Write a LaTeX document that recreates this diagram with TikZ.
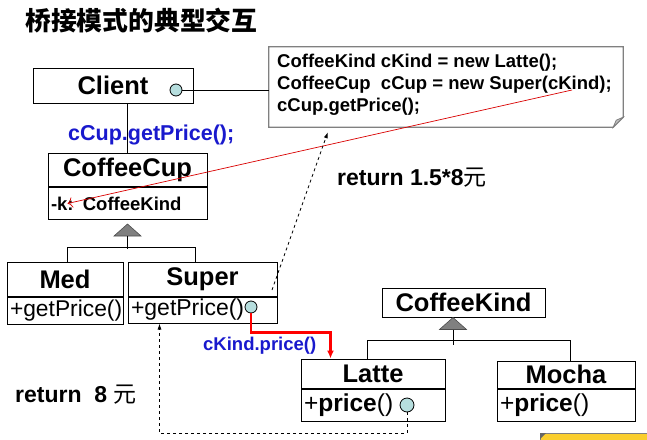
\documentclass[tikz,border=0pt]{standalone}
\usepackage{fontspec}
\setmainfont{Liberation Sans}
\newfontfamily\cjk{Noto Sans CJK SC}
\usetikzlibrary{arrows.meta,calc}
\definecolor{mblue}{RGB}{25,25,205}
\definecolor{cfill}{RGB}{182,222,222}
\definecolor{ngray}{RGB}{128,128,128}
\definecolor{yel}{RGB}{250,206,45}
\begin{document}
\begin{tikzpicture}[x=1pt,y=-1pt,
  cls/.style={draw, line width=1pt, inner sep=0pt, font=\bfseries\fontsize{25.5}{28}\selectfont},
  op/.style={draw, line width=1pt, inner xsep=3pt, inner ysep=0pt, align=left, font=\fontsize{23}{26}\selectfont},
  ball/.style={circle, draw, line width=0.8pt, fill=cfill, inner sep=0pt, minimum size=12pt},
  bluelbl/.style={text=mblue, font=\bfseries\fontsize{21.5}{24}\selectfont, inner sep=0pt, anchor=base west},
  notetxt/.style={font=\bfseries\fontsize{18.5}{22}\selectfont, inner sep=0pt, anchor=base west},
  rettxt/.style={font=\bfseries\fontsize{23}{26}\selectfont, inner sep=0pt, anchor=base west},
  genline/.style={line width=1pt},
  gentri/.style={fill=ngray, draw=black!70, line width=0.6pt},
  dasharrow/.style={dashed, line width=0.8pt, -{Latex[length=6pt,width=4pt]}}
]
\useasboundingbox (0,0) rectangle (647,439);

% title
\node[inner sep=0pt, anchor=base west, font=\cjk\bfseries\fontsize{25.8}{28}\selectfont] (title) at (25,30.5) {桥接模式的典型交互};

% note
\node[minimum width=354, minimum height=80, inner sep=0pt] (note) at (446,87) {};
\fill[white] (note.north west) -- (note.north east) -- ($(note.south east)+(0,-10)$) -- ($(note.south east)+(-10,0)$) -- (note.south west) -- cycle;
\draw[ngray, line width=1.3pt] (note.north west) -- (note.north east) -- ($(note.south east)+(0,-10)$) -- ($(note.south east)+(-10,0)$) -- (note.south west) -- cycle;
\filldraw[fill=black!25, draw=ngray, line width=0.8pt] ($(note.south east)+(0,-10)$) -- ($(note.south east)+(-7,-7)$) -- ($(note.south east)+(-10,0)$) -- cycle;
\node[notetxt] (n1) at (277,67) {CoffeeKind cKind = new Latte();};
\node[notetxt] (n2) at (277,89) {CoffeeCup\ \ cCup = new Super(cKind);};
\node[notetxt] (n3) at (277,111) {cCup.getPrice();};

% classes
\node[cls, minimum width=160, minimum height=35] (client) at (113,85.5) {Client};
\node[cls, minimum width=159, minimum height=33] (cup) at (127.5,170) {CoffeeCup};
\node[op, text width=153, minimum height=32, anchor=north west, font=\bfseries\fontsize{18.5}{20}\selectfont] (cupattr) at (cup.south west) {-k: CoffeeKind};

\node[cls, minimum width=116, minimum height=34] (med) at (65,279) {Med};
\node[op, text width=110, minimum height=27, anchor=north west, font=\fontsize{22.8}{26}\selectfont] (medop) at (med.south west) {+getPrice()};

\node[cls, minimum width=149, minimum height=34] (super) at (202.5,279) {Super};
\node[op, text width=143, minimum height=26, anchor=north west] (superop) at (super.south west) {+getPrice()};

\node[cls, minimum width=163, minimum height=29] (kind) at (463.5,302.5) {CoffeeKind};

\node[cls, minimum width=144, minimum height=29] (latte) at (373,373.5) {Latte};
\node[op, text width=138, minimum height=32, anchor=north west, font=\fontsize{24.5}{26}\selectfont] (latteop) at (latte.south west) {+\textbf{price}()};

\node[cls, minimum width=138, minimum height=27] (mocha) at (566,374.5) {Mocha};
\node[op, text width=132, minimum height=32, anchor=north west, font=\fontsize{24.5}{26}\selectfont] (mochaop) at (mocha.south west) {+\textbf{price}()};

% balls
\node[ball] (cball) at (176,90) {};
\node[ball] (sball) at (251,307) {};
\node[ball, minimum size=14pt] (lball) at (407,405) {};

% client to note
\draw[line width=0.8pt] (cball.east) -- (cball.east -| note.west);

% client to cup
\node[bluelbl] (call1) at (68,140) {cCup.getPrice();};
\draw[line width=0.8pt] (cup.north) -- (cup.north |- client.south);

% generalization 1
\coordinate (g1) at ($(cupattr.south)+(0,4)$);
\filldraw[gentri] (g1) -- ++(13.5,12) -- ++(-27,0) -- cycle;
\draw[genline] ($(g1)+(0,12)$) -- ($(g1)+(0,25)$);
\draw[genline] ($(med.north)+(2,0)$) -- ++(0,-14) -| ($(super.north)+(-7.5,0)$);

% generalization 2
\coordinate (g2) at ($(kind.south)+(-10.5,0)$);
\filldraw[gentri] (g2) -- ++(13.5,12) -- ++(-27,0) -- cycle;
\draw[genline] ($(g2)+(0,12)$) -- ++(0,15);
\draw[genline] ($(latte.north)+(-6,0)$) -- ++(0,-18) -| ($(mocha.north)+(4,0)$);

% red thin arrow from note to attribute
\coordinate (rstart) at (572,90);
\draw[red!85!black, line width=0.7pt, -{To[length=5pt]}] (rstart) -- ($(cupattr.west)+(20,0)$);

% dashed Super to note
\coordinate (dstart) at (272,290);
\draw[dasharrow] (dstart) -- ($(note.south west)+(59,5)$);
\node[rettxt] (ret1) at (337,185) {return 1.5*8{\cjk\mdseries 元}};

% red call to Latte
\draw[red, line width=2.2pt, -{Latex[length=8pt,width=7pt]}] (sball.south) -- ++(0,19) -| ($(latte.north west)+(30,0)$);
\node[bluelbl, font=\bfseries\fontsize{18.5}{22}\selectfont] (call2) at (203,350) {cKind.price()};

% dashed return to Super
\draw[dasharrow] (lball.south) -- ++(0,21) -| ($(superop.south west)+(32,0)$);
\node[rettxt] (ret2) at (15,402) {return\ \ 8 {\cjk\mdseries 元}};

% yellow partial shape
\fill[yel] (540,433) rectangle (660,450);
\draw[ngray, line width=1pt] (540,450) -- (540,433) -- (660,433);
\fill[black!60] (540,433) -- (546,433) -- (540,439) -- cycle;
\end{tikzpicture}
\end{document}
